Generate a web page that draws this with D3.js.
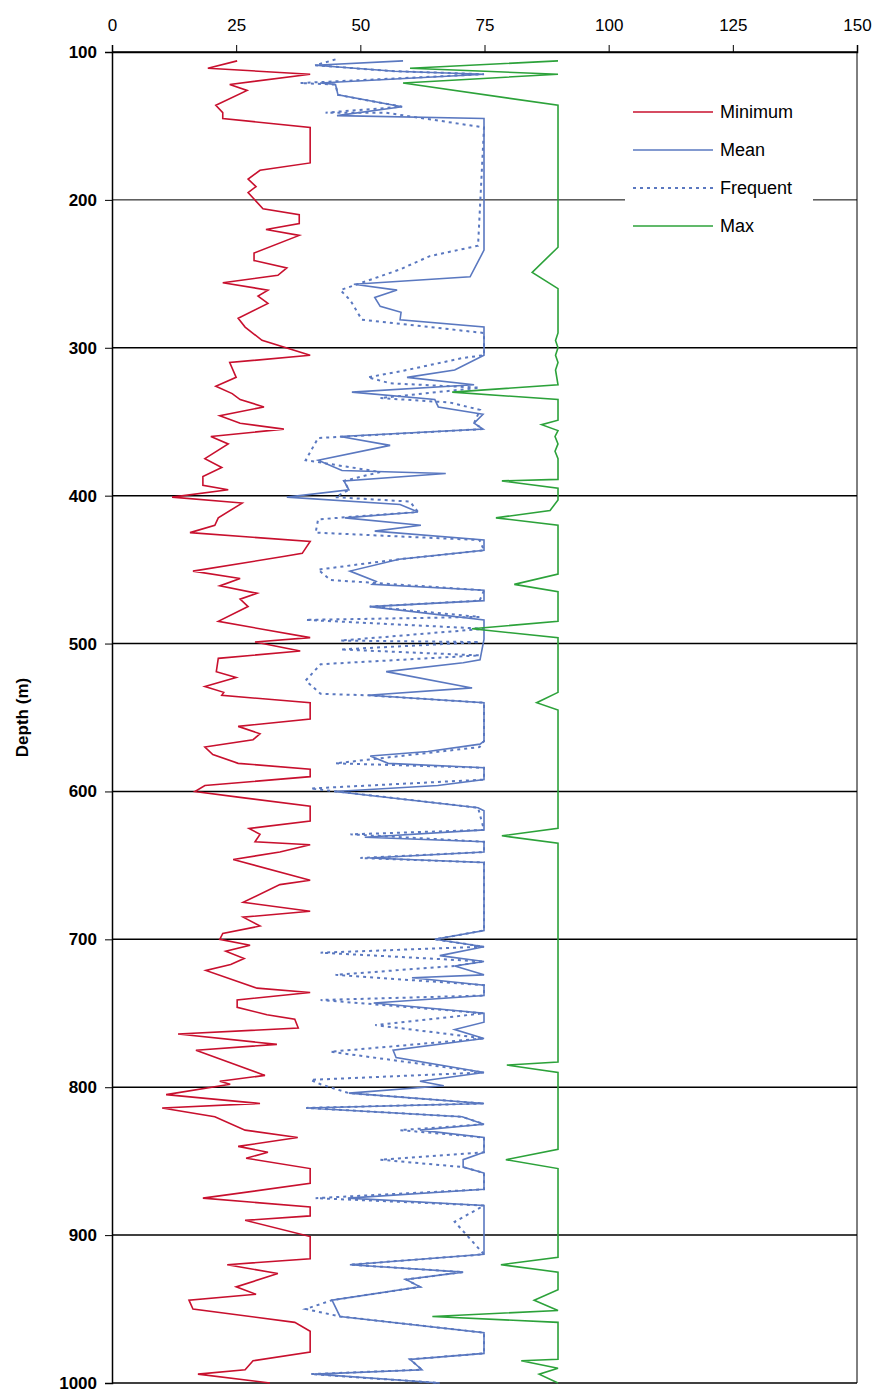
<!DOCTYPE html>
<html>
<head>
<meta charset="utf-8">
<script src="https://cdn.jsdelivr.net/npm/d3@7"></script>
<style>
  body { margin: 0; background: #fff; }
  text { font-family: "Liberation Sans", Arial, sans-serif; }
</style>
</head>
<body>
<svg id="chart"></svg>
<script>
// depth (m) / value pairs
var minDepth = [106,111,115,122,126,136,141,145,151,175,180,186,191,195,206,210,216,220,224,236,241,246,251,256,261,265,270,280,286,295,305,310,320,326,331,335,340,346,351,355,360,365,375,381,387,393,396,401,405,415,420,425,431,439,441,451,456,461,466,470,475,485,496,499,505,510,519,523,529,533,535,540,551,556,561,565,570,575,581,585,590,596,600,604,610,620,625,629,634,636,641,646,660,663,675,681,685,691,696,700,704,708,713,717,721,733,736,741,746,751,754,760,764,771,775,783,792,796,798,805,811,814,820,829,834,840,844,848,855,865,875,881,887,890,901,916,920,926,935,940,944,950,959,965,979,985,991,994,1000];
var minVal = [25.2,19.3,39.9,23.7,27.2,20.9,22.3,22.3,39.9,39.9,29.8,27.4,29,27.4,30.4,37.7,37.7,31,37.7,28.6,28.6,35.2,33.4,22.3,31.4,29.4,31.4,25.4,26.8,30.2,39.9,23.7,25,20.9,24.2,25.8,30.6,21.7,25.8,34.6,19.9,23.4,18.7,22.1,18.3,18.3,23.4,12.1,26.2,21.4,20.7,15.7,39.9,38.3,34.8,16.3,25.8,21.7,29.2,25.8,27.4,21.4,39.9,28.8,37.9,21.4,21,25,18.7,22.5,22.1,39.9,39.9,25.4,29.8,28.4,18.7,20.3,25.4,39.9,39.9,18.7,16.7,25.8,39.9,39.9,27.6,29.8,28.8,39.9,33.8,24.4,39.9,33.8,26.4,39.9,26.4,29.8,22.3,21.7,27.8,22.9,26.6,23.9,18.9,29.2,39.9,25.2,25.2,31.2,36.8,37.5,13.3,33.2,16.9,23.4,30.8,21.7,23.8,10.9,29.8,10.1,20.7,26.8,37.4,25.4,31.4,27,39.9,39.9,18.3,39.9,39.9,26.8,39.9,39.9,23.2,33.4,25,29,15.5,16.3,36.8,39.9,39.9,28.4,26.8,17.3,31.8];

var meanDepth = [106,109,113,115,121,122,129,137,143,145,234,252,257,261,266,272,276,281,286,305,315,320,325,330,335,340,345,351,355,360,366,376,383,385,390,396,401,406,411,415,420,424,430,437,443,451,458,460,464,471,475,484,497,511,513,519,530,535,540,566,568,573,576,581,584,592,596,600,611,613,626,631,634,641,645,648,694,700,705,711,715,718,724,726,731,738,743,750,756,761,767,775,780,790,796,799,804,811,814,820,825,829,834,844,849,854,858,869,875,880,913,920,925,930,935,944,955,966,980,984,991,994,1000];
var meanVal = [58.6,40.9,56.9,74.9,41.9,45,45.5,58.4,45.3,74.9,74.9,72.1,48.7,57.4,52.9,54,58.2,58,74.9,74.9,69,59.4,72.9,48.3,65,65.7,74.7,72.9,74.7,45.9,56,41.5,46.3,67.2,46.7,47.7,35.2,58,61.6,46.9,62.2,52.9,74.9,74.9,57.8,47.9,53.2,52.4,74.9,74.9,51.9,74.9,74.9,74.1,70.7,55.2,72.5,51.5,74.9,74.9,74.1,63.6,52,55.6,74.9,74.9,65.6,44.9,73.7,74.9,74.9,50.9,74.9,74.9,51.9,74.9,74.9,65,74.9,66,74.9,69,74.9,60.4,74.9,74.9,52.7,74.9,74.9,69,74.9,56.6,57.2,74.9,62,66.8,47.7,74.9,39.1,70.5,74.9,62,74.9,74.9,70.7,70.7,74.9,74.9,47.5,74.9,74.9,47.9,70.7,59.2,62,44.3,45.9,74.9,74.9,60,62.4,40.9,66];

var freqDepth = [105,109,113,115,121,122,129,137,141,141,151,231,238,247,261,268,281,290,305,307,316,320,324,327,334,337,342,351,355,361,376,384,390,396,401,404,411,416,425,430,437,443,450,457,464,471,475,482,484,490,498,499,504,508,514,525,534,535,540,566,570,581,584,592,598,611,626,629,634,641,645,648,694,700,705,709,715,718,724,731,738,741,750,758,767,776,790,795,798,804,811,814,820,825,829,834,844,849,854,858,869,875,880,891,913,920,925,930,935,944,950,955,966,980,984,991,994,1000];
var freqVal = [45,40.9,56.9,74.9,37.9,45,45.5,58.4,43,55,74.9,73.7,64,58,46,48,50.3,74.9,74.9,70.5,58,51.5,56,74,54,68,74.1,72.9,74.7,41.5,39,54,46.7,47.7,45,60,61.6,41.5,41,74,74.9,57.8,41.5,44,74.9,74,51.9,74,39,74.9,46,74,46,74,42,39,42,51.5,74.9,74.9,74,45,74.9,74.9,40,73.7,74.9,48,74.9,74.9,50,74.9,74.9,65,74.9,42,74.9,69,45,74.9,74.9,42,74.9,53,74.9,44,74.9,40,42,47.7,74.9,39.1,70.5,74.9,58,74.9,74.9,54,70.7,74.9,74.9,41,74.9,69,74.9,47.9,70.7,59.2,62,44.3,39,45.9,74.9,74.9,60,62.4,40,66];

var maxDepth = [106,111,115,121,136,232,249,260,290,295,300,305,310,315,325,330,335,349,352,356,360,365,370,375,389,390,395,403,410,415,420,453,460,465,485,490,496,533,540,545,625,630,635,783,785,790,842,849,855,915,920,925,937,944,951,955,959,984,985,990,994,1000];
var maxVal = [89.8,60,89.8,58.6,89.8,89.8,84.6,89.8,89.8,89.3,89.8,89.3,89.8,89.3,89.8,68.5,89.8,89.8,86.5,89.8,89.2,89.8,89.2,89.8,89.8,78.5,89.8,89.8,88.2,77.3,89.8,89.8,81,89.8,89.8,72.5,89.8,89.8,85.5,89.8,89.8,78.5,89.8,89.8,79.5,89.8,89.8,79.3,89.8,89.8,78.3,89.8,89.8,85,89.8,64.5,89.8,89.8,82.4,89.8,86,89.8];

var xTicks = [0, 25, 50, 75, 100, 125, 150];
var yTicks = [100, 200, 300, 400, 500, 600, 700, 800, 900, 1000];

var seriesNames = ["Minimum", "Mean", "Frequent", "Max"];
var strokes = ["#c8102e", "#5a78c0", "#5a78c0", "#2ca23a"];
var dashes = [null, null, "3,4", null];

var width = 888, height = 1394;
var margin = { top: 52, right: 31, bottom: 11, left: 112 };

var svg = d3.select("#chart").attr("width", width).attr("height", height);

var x = d3.scaleLinear().domain([0, 150]).range([margin.left, width - margin.right]);
var y = d3.scaleLinear().domain([100, 1000]).range([margin.top, height - margin.bottom]);

// gridlines
svg.append("g").selectAll("line").data(yTicks).enter().append("line")
   .attr("x1", x(0)).attr("x2", x(150))
   .attr("y1", function (d) { return y(d); }).attr("y2", function (d) { return y(d); })
   .style("stroke", "#000").style("stroke-width", function (d) { return d === 200 ? 1 : 1.5; });
svg.append("line").attr("x1", x(150)).attr("x2", x(150)).attr("y1", y(100)).attr("y2", y(1000))
   .style("stroke", "#000").style("stroke-width", 1);

// series lines
var data = [[minDepth, minVal], [meanDepth, meanVal], [freqDepth, freqVal], [maxDepth, maxVal]];
var line = d3.line().x(function (d) { return x(d[1]); }).y(function (d) { return y(d[0]); });
var drawOrder = [0, 2, 1, 3];
drawOrder.forEach(function (i) {
    var pts = d3.zip(data[i][0], data[i][1]);
    svg.append("path").datum(pts)
       .attr("d", line)
       .style("fill", "none")
       .style("stroke", strokes[i])
       .style("stroke-width", i === 2 ? 2 : 1.6)
       .style("stroke-dasharray", dashes[i]);
});

// top axis
var xAxis = svg.append("g").attr("transform", "translate(0," + y(100) + ")")
   .call(d3.axisTop(x).tickValues(xTicks).tickSize(7).tickPadding(14));
xAxis.select(".domain").style("stroke-width", 1.5);
xAxis.selectAll("text").style("font-size", "17px").style("fill", "#000");

// left axis
var yAxis = svg.append("g").attr("transform", "translate(" + x(0) + ",0)")
   .call(d3.axisLeft(y).tickValues(yTicks).tickFormat(d3.format("d")).tickSize(7).tickPadding(8));
yAxis.select(".domain").style("stroke-width", 1.5);
yAxis.selectAll("text").style("font-size", "17px").style("font-weight", "bold").style("fill", "#000");

svg.append("text")
   .attr("transform", "translate(28," + y(550) + ") rotate(-90)")
   .attr("text-anchor", "middle")
   .style("font-size", "17px").style("font-weight", "bold")
   .text("Depth (m)");

// legend
var legend = svg.append("g");
legend.append("rect").attr("x", 625).attr("y", 92).attr("width", 188).attr("height", 150).style("fill", "#fff");
seriesNames.forEach(function (name, i) {
    var ly = 112 + i * 38;
    legend.append("line").attr("x1", 633).attr("x2", 713).attr("y1", ly).attr("y2", ly)
          .style("stroke", strokes[i]).style("stroke-width", i === 2 ? 2 : 1.6)
          .style("stroke-dasharray", dashes[i]);
    legend.append("text").attr("x", 720).attr("y", ly + 6)
          .style("font-size", "18px").text(name);
});
</script>
</body>
</html>
